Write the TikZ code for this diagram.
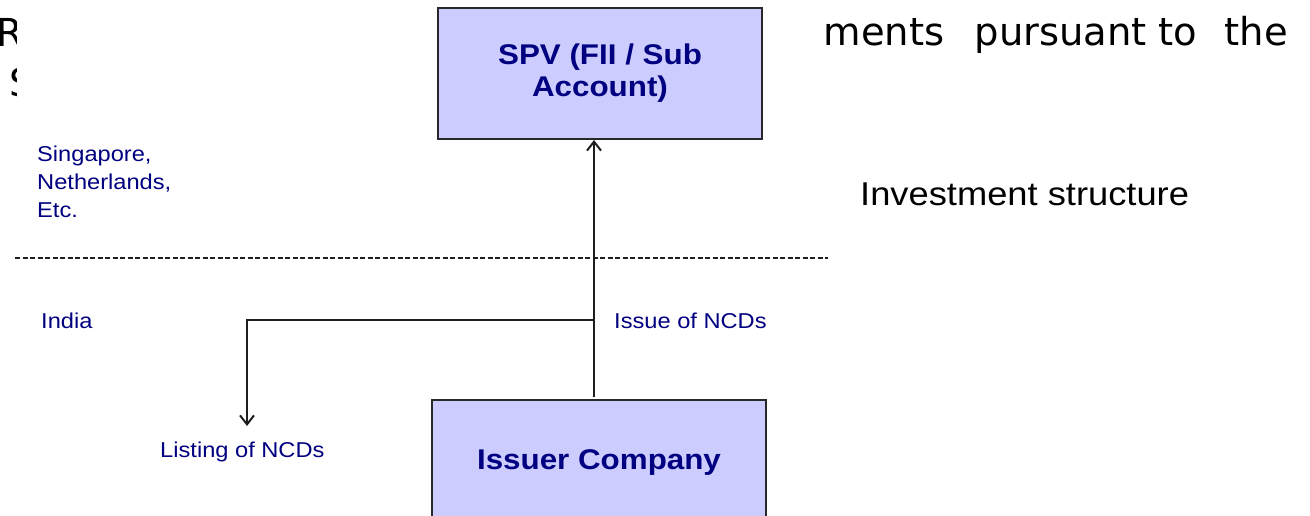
\documentclass[tikz,border=0pt]{standalone}
\usepackage{fontspec}
\setmainfont{Liberation Sans}
\newfontfamily\diagfont[FakeStretch=1.1]{Liberation Sans}
\newfontfamily\slidefont{DejaVu Sans}
\usetikzlibrary{arrows.meta}
\definecolor{navy}{RGB}{0,0,128}
\definecolor{boxfill}{RGB}{204,204,255}
\definecolor{boxline}{RGB}{40,40,40}
\definecolor{lineclr}{RGB}{30,30,30}
\begin{document}
\begin{tikzpicture}[x=1pt,y=-1pt,
  box/.style={draw=boxline, line width=2pt, fill=boxfill, text=navy,
    font=\diagfont\bfseries\fontsize{28.5}{32}\selectfont, align=center, inner sep=0},
  lbl/.style={text=navy, font=\diagfont\fontsize{21.5}{28}\selectfont, inner sep=0, anchor=base west, align=left},
  slide/.style={font=\slidefont\fontsize{38.5}{46}\selectfont, inner sep=0, anchor=base west},
  conn/.style={draw=lineclr, line width=2pt},
  tipped/.style={-{Straight Barb[length=9pt,width=14pt]}}]
\clip (0,0) rectangle (1310,516);
% slide text partly hidden behind the diagram picture
\begin{scope}
  \clip (0,0) rectangle (16,516) (823,0) rectangle (1310,516);
  \node[slide] (sR) at (-3.8,47) {R};
  \node[slide] (sS) at (9.5,97) {S};
  \node[slide] (s1) at (800.8,46) {yments};
  \node[slide] (s2) at (974.4,46) {pursuant};
  \node[slide] (s3) at (1158.3,46) {to};
  \node[slide] (s4) at (1224.3,46) {the};
\end{scope}
\node[font=\diagfont\fontsize{33}{36}\selectfont, inner sep=0, anchor=base west] (inv) at (860,206) {Investment structure};
% diagram
\node[box, minimum width=324, minimum height=131] (spv) at (600,73.5) {SPV (FII / Sub\\Account)};
\node[box, minimum width=334, minimum height=126, anchor=north] (issuer) at (599,399) {Issuer Company};
\coordinate (dl) at (15,258);
\coordinate (dr) at (828,258);
\draw[conn, line width=1.4pt, dash pattern=on 5pt off 2.5pt] (dl) -- (dr);
\coordinate (vb) at ([xshift=-5pt]issuer.north);
\draw[conn, tipped, shorten <=2pt] (vb) -- (vb |- spv.south);
\coordinate (br) at (594,320);
\coordinate (ltip) at (247,426);
\draw[conn, tipped] (br) -| (ltip);
\node[lbl] (sg) at (37,218) {Singapore,\\Netherlands,\\Etc.};
\node[lbl] (india) at (41,328) {India};
\node[lbl] (issue) at (614,328) {Issue of NCDs};
\node[lbl] (listing) at (160,457) {Listing of NCDs};
\end{tikzpicture}
\end{document}
